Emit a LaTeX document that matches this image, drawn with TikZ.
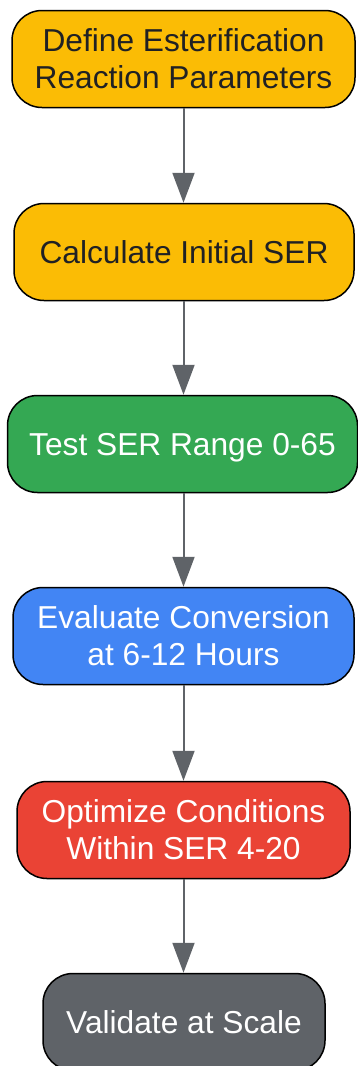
\documentclass[tikz,border=0pt]{standalone}
\usepackage{fontspec}
\setmainfont{Liberation Sans}
\usetikzlibrary{arrows.meta}
\definecolor{gyellow}{HTML}{FBBC05}
\definecolor{ggreen}{HTML}{34A853}
\definecolor{gblue}{HTML}{4285F4}
\definecolor{gred}{HTML}{EA4335}
\definecolor{ggrey}{HTML}{5F6368}
\definecolor{gdark}{HTML}{202124}

\begin{document}
\begin{tikzpicture}[x=1pt,y=-1pt]
				\tikzset{stepbox/.style={draw=black,line width=1.5pt,rounded corners=30pt,
						minimum height=97pt,inner sep=0pt,align=center,text depth=0pt,
						font=\fontsize{31.7}{37}\selectfont},
					flow/.style={draw=ggrey,line width=2pt,-{Triangle[length=30pt,width=22pt]}}}
				
				\useasboundingbox (0,0) rectangle (358,1066);
				
				\node[stepbox,fill=gyellow,text=gdark,minimum width=343pt] (define) at (183.5,59){Define Esterification\\Reaction Parameters};
				\node[stepbox,fill=gyellow,text=gdark,minimum width=340pt] (calc) at (184,252){Calculate Initial SER};
				\node[stepbox,fill=ggreen,text=white,minimum width=350pt] (test) at (182.5,444){Test SER Range 0-65};
				\node[stepbox,fill=gblue,text=white,minimum width=341pt] (eval) at (183.5,636){Evaluate Conversion\\at 6-12 Hours};
				\node[stepbox,fill=gred,text=white,minimum width=333pt] (optim) at (183.5,830){Optimize Conditions\\Within SER 4-20};
				\node[stepbox,fill=ggrey,text=white,minimum width=282pt] (valid) at (184,1022){Validate at Scale};
				
				% arrows between steps
				\foreach \a/\b in {define/calc,calc/test,test/eval,eval/optim,optim/valid}
				{
					\draw[flow] (\a.south -| 183.5,0) -- (\b.north -| 183.5,0);
				}
				
			\end{tikzpicture}
\end{document}
